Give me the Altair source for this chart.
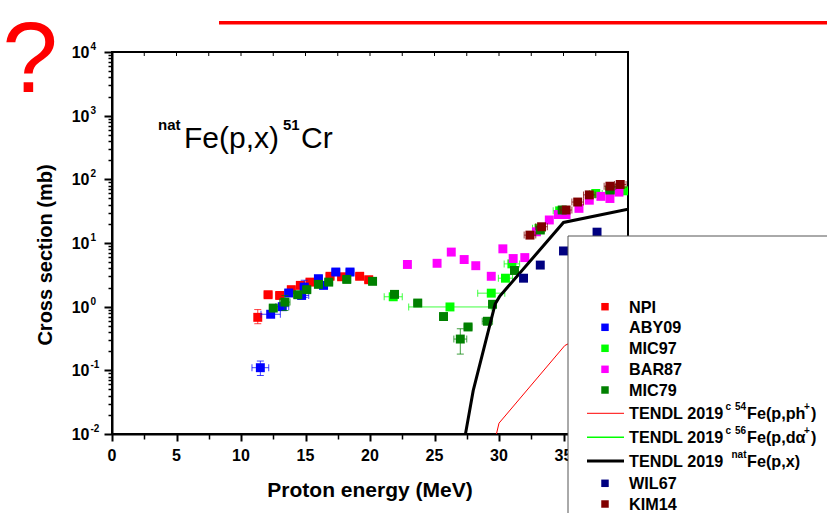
import altair as alt
import pandas as pd

# ---------------- data ----------------
NPI_E = [11.3, 12.1, 13.0, 13.9, 14.6, 15.35, 16.9, 17.8, 19.2, 19.9]
NPI_S = [0.68, 1.54, 1.5, 1.85, 2.16, 2.43, 3.0, 2.95, 3.0, 2.65]
NPI_XE = [0.25, 0.3, 0.3, 0.3, 0.3, 0.3, 0.3, 0.3, 0.3, 0.3]

ABY_E = [11.5, 12.3, 13.2, 13.7, 14.7, 14.9, 16.0, 16.4, 17.35, 18.45]
ABY_S = [0.11, 0.76, 1.0, 1.64, 1.5, 2.03, 2.75, 2.16, 3.5, 3.5]
ABY_XE = [0.65, 0.75, 0.5, 0.3, 0.55, 0.3, 0.3, 0.3, 0.3, 0.3]

MIC97_E = [21.8, 26.2, 29.4, 30.5, 31.0, 33.1, 34.7, 37.5, 38.8, 39.8]
MIC97_S = [1.43, 0.99, 1.63, 2.8, 4.7, 17, 32, 60, 68, 66]
MIC97_XE = [0.7, 3.2, 1.05, 0.55, 0.6, 0.5, 0.5, 0.5, 0.5, 0.5]

BAR_E = [22.9, 25.2, 26.3, 27.3, 28.2, 29.4, 30.3, 31.1, 32.0, 32.9, 33.9, 34.6, 35.2,
         36.2, 37.0, 37.9, 38.6, 39.3]
BAR_S = [4.6, 4.8, 7.2, 5.5, 4.4, 3.0, 8.1, 5.7, 5.9, 15, 23, 28, 28, 35, 47, 54, 50, 63]
BAR_XE = [0] * len(BAR_E)

MIC79_E = [12.5, 13.4, 14.4, 15.1, 16.0, 16.8, 18.2, 20.2, 21.9, 23.7, 25.7, 27.0, 27.6,
           29.1, 29.5, 31.2, 33.2, 34.9, 38.6]
MIC79_S = [0.95, 1.18, 1.54, 1.85, 2.24, 2.43, 2.68, 2.5, 1.56, 1.14, 0.70, 0.31, 0.48,
           0.59, 1.09, 3.7, 16, 33, 68]
MIC79_XE = [0.3, 0.4, 0.3, 0.3, 0.3, 0.3, 0.3, 0.3, 0.3, 0.3, 0.3, 0.5, 0.3,
            0.4, 0.3, 0.3, 0.3, 0.3, 0.3]

WIL_E = [31.9, 33.2, 35.0, 37.6]
WIL_S = [2.8, 4.5, 7.5, 14.8]
WIL_XE = [0, 0, 0, 0]

KIM_E = [32.4, 33.3, 35.2, 36.1, 37.0, 38.6, 39.4]
KIM_S = [13.3, 18, 33, 44, 57, 78, 83]
KIM_XE = [0.45, 0.45, 0.45, 0.45, 0.45, 0.45, 0.45]

# vertical error bars (series, energy, low, high)
VE_SER = ["NPI", "ABY09", "ABY09", "MIC79", "MIC79"]
VE_E = [11.3, 11.5, 14.9, 13.4, 27.0]
VE_LO = [0.54, 0.083, 1.4, 0.87, 0.18]
VE_HI = [0.90, 0.14, 2.6, 1.5, 0.45]

# TENDL 2019 curves
NAT_E = [27.4, 28.0, 29.7, 30.05, 35.0, 40.0]
NAT_S = [0.01, 0.048, 1.1, 1.45, 21, 34]
FE54_E = [29.8, 30.0, 35.1, 35.5]
FE54_S = [0.01, 0.0148, 0.245, 0.27]

X_TICKS = [0, 2.5, 5, 7.5, 10, 12.5, 15, 17.5, 20, 22.5, 25, 27.5, 30, 32.5, 35, 37.5, 40]
X_LABELS = [0, 5, 10, 15, 20, 25, 30, 35]
Y_EXPS = [-2, -1, 0, 1, 2, 3, 4]

# ---------------- layout ----------------
FONT = "Liberation Sans"
W, H = 516, 382
OX, OY = 112, 52


def px(X):
    return X - OX


def py(Y):
    return Y - OY


COLORS = {"NPI": "#ff0000", "ABY09": "#0000ff", "MIC97": "#00ff00", "BAR87": "#ff00ff",
          "MIC79": "#008000", "WIL67": "#000080", "KIM14": "#800000"}

xs = alt.Scale(domain=[0, 40], nice=False, zero=False)
ys = alt.Scale(type="log", domain=[0.01, 10000], nice=False)

Y_TICKS = [m * 10.0 ** k for k in range(-2, 4) for m in range(1, 10)] + [10000.0]

MAJ_Y = "abs(log(datum.value)/LN10 - round(log(datum.value)/LN10)) < 0.001"
XAX = alt.Axis(values=X_TICKS, labels=False, title=None, grid=False,
               domainColor="black", domainWidth=2, tickColor="black",
               tickSize={"condition": {"test": "datum.value % 5 === 0", "value": 7}, "value": 5},
               tickWidth={"condition": {"test": "datum.value % 5 === 0", "value": 2}, "value": 1.5})
YAX = alt.Axis(values=Y_TICKS, labels=False, title=None, grid=False,
               domainColor="black", domainWidth=2, tickColor="black",
               tickSize={"condition": {"test": MAJ_Y, "value": 8}, "value": 4},
               tickWidth={"condition": {"test": MAJ_Y, "value": 2}, "value": 1.5})


def X(f):
    return alt.X(f, type="quantitative", scale=xs, axis=XAX)


def Y(f):
    return alt.Y(f, type="quantitative", scale=ys, axis=YAX)


ONE = pd.DataFrame({"k": [0]})


def txt(s, x, y, size, bold=True, align="left", baseline="middle", color="black", angle=0):
    return alt.Chart(ONE).mark_text(
        text=s, font=FONT, fontSize=size, fontWeight="bold" if bold else "normal",
        align=align, baseline=baseline, color=color, angle=angle
    ).encode(x=alt.value(px(x)), y=alt.value(py(y)))


series = [
    ("NPI", NPI_E, NPI_S, NPI_XE),
    ("ABY09", ABY_E, ABY_S, ABY_XE),
    ("MIC97", MIC97_E, MIC97_S, MIC97_XE),
    ("BAR87", BAR_E, BAR_S, BAR_XE),
    ("MIC79", MIC79_E, MIC79_S, MIC79_XE),
    ("WIL67", WIL_E, WIL_S, WIL_XE),
    ("KIM14", KIM_E, KIM_S, KIM_XE),
]

layers = []

nat_df = pd.DataFrame({"E": NAT_E, "S": NAT_S})
fe54_df = pd.DataFrame({"E": FE54_E, "S": FE54_S})

for name, E, S, XE in series:
    c = COLORS[name]
    df = pd.DataFrame({"E": E, "S": S, "lo": [e - d for e, d in zip(E, XE)],
                       "hi": [e + d for e, d in zip(E, XE)], "d": XE})
    eb = df[df["d"] > 0]
    if len(eb):
        layers.append(alt.Chart(eb).mark_rule(color=c, strokeWidth=1, opacity=0.75, clip=True)
                      .encode(x=X("lo"), x2="hi", y=Y("S")))
        for col in ["lo", "hi"]:
            layers.append(alt.Chart(eb).mark_tick(color=c, orient="vertical", size=7, thickness=1,
                                                  opacity=0.75, clip=True)
                          .encode(x=X(col), y=Y("S")))
    ve = pd.DataFrame({"E": [e for s, e in zip(VE_SER, VE_E) if s == name],
                       "lo": [v for s, v in zip(VE_SER, VE_LO) if s == name],
                       "hi": [v for s, v in zip(VE_SER, VE_HI) if s == name]})
    if len(ve):
        layers.append(alt.Chart(ve).mark_rule(color=c, strokeWidth=1, opacity=0.75, clip=True)
                      .encode(x=X("E"), y=Y("lo"), y2="hi"))
        for col in ["lo", "hi"]:
            layers.append(alt.Chart(ve).mark_tick(color=c, orient="horizontal", size=7,
                                                  thickness=1, opacity=0.75, clip=True)
                          .encode(x=X("E"), y=Y(col)))
    layers.append(alt.Chart(df).mark_square(size=80, color=c, opacity=1, clip=True)
                  .encode(x=X("E"), y=Y("S")))
    if name == "MIC79":
        layers.append(alt.Chart(nat_df).mark_line(color="black", strokeWidth=3, clip=True)
                      .encode(x=X("E"), y=Y("S")))
        layers.append(alt.Chart(fe54_df).mark_line(color="#ff0000", strokeWidth=1, clip=True)
                      .encode(x=X("E"), y=Y("S")))

# inward ticks on the top frame
top_df = pd.DataFrame({"E": X_TICKS[1:-1]})
layers.append(alt.Chart(top_df).mark_rule(color="black", strokeWidth=1)
              .encode(x=X("E"), y=alt.value(0), y2=alt.value(4)))

# tick labels
xl_df = pd.DataFrame({"E": X_LABELS, "t": [str(v) for v in X_LABELS]})
layers.append(alt.Chart(xl_df).mark_text(font=FONT, fontSize=16, fontWeight="bold",
                                         baseline="middle", align="center")
              .encode(x=X("E"), y=alt.value(py(456)), text="t:N"))
yl_df = pd.DataFrame({"v": [10.0 ** e for e in Y_EXPS], "t": [str(e) for e in Y_EXPS]})
layers.append(alt.Chart(yl_df).mark_text(text="10", font=FONT, fontSize=16, fontWeight="bold",
                                         baseline="middle", align="right", dy=1)
              .encode(x=alt.value(px(89.5)), y=Y("v")))
layers.append(alt.Chart(yl_df).mark_text(font=FONT, fontSize=10, fontWeight="bold",
                                         baseline="middle", align="left", dy=-5)
              .encode(x=alt.value(px(90.5)), y=Y("v"), text="t:N"))

# axis titles
layers.append(txt("Proton energy (MeV)", 370, 491, 21, align="center"))
layers.append(txt("Cross section (mb)", 46, 255, 20, align="center", angle=270))

# reaction label
layers.append(txt("nat", 158, 130, 15, bold=True, baseline="alphabetic"))
layers.append(txt("Fe(p,x)", 184, 148, 30, bold=False, baseline="alphabetic"))
layers.append(txt("51", 283, 130, 15, bold=True, baseline="alphabetic"))
layers.append(txt("Cr", 301, 148, 30, bold=False, baseline="alphabetic"))

# legend box
layers.append(alt.Chart(ONE).mark_rect(fill="white", stroke="#555555", strokeWidth=1)
              .encode(x=alt.value(px(568)), x2=alt.value(px(840)),
                      y=alt.value(py(236)), y2=alt.value(py(530))))

LEG_ROWS = [
    ("sq", "NPI", COLORS["NPI"], 0),
    ("sq", "ABY09", COLORS["ABY09"], 0),
    ("sq", "MIC97", COLORS["MIC97"], 0),
    ("sq", "BAR87", COLORS["BAR87"], 0),
    ("sq", "MIC79", COLORS["MIC79"], 0),
    ("line", "54", "#ff0000", 1),
    ("line", "56", "#00ff00", 1.5),
    ("line", "nat", "#000000", 3),
    ("sq", "WIL67", COLORS["WIL67"], 0),
    ("sq", "KIM14", COLORS["KIM14"], 0),
]
ROW_Y = [306.7, 327.3, 348.3, 369.3, 390, 413.3, 437.3, 461, 483.3, 504]

for (kind, lab, col, lw), yy in zip(LEG_ROWS, ROW_Y):
    if kind == "sq":
        layers.append(alt.Chart(ONE).mark_square(size=56, color=col, opacity=1)
                      .encode(x=alt.value(px(605)), y=alt.value(py(yy))))
        layers.append(txt(lab, 629, yy + 1, 16.2))
    else:
        layers.append(alt.Chart(ONE).mark_rule(color=col, strokeWidth=lw)
                      .encode(x=alt.value(px(587)), x2=alt.value(px(624)), y=alt.value(py(yy))))
        layers.append(txt("TENDL 2019", 629, yy + 1, 16.2))
        if lab == "nat":
            layers.append(txt("nat", 731.5, yy - 6, 10))
            layers.append(txt("Fe(p,x)", 747, yy + 1, 16.2))
        else:
            layers.append(txt("c", 725.5, yy - 6, 10))
            layers.append(txt(lab, 735, yy - 6, 10))
            layers.append(txt("Fe(p,ph" if lab == "54" else "Fe(p,d\u03b1", 747, yy + 1, 16.2))
            layers.append(txt("+", 804, yy - 6, 10))
            layers.append(txt(")", 811, yy + 1, 16.2))

# slide decorations
layers.append(txt("?", 30, 92, 100, bold=False, align="center", baseline="alphabetic",
                  color="#ff0000"))
layers.append(alt.Chart(ONE).mark_rule(color="#ff0000", strokeWidth=3.5)
              .encode(x=alt.value(px(219)), x2=alt.value(px(840)), y=alt.value(py(22.7))))

chart = alt.layer(*layers).properties(
    width=W, height=H, autosize="none",
    padding={"left": OX, "top": OY, "right": 827 - OX - W, "bottom": 513 - OY - H},
).configure_view(stroke="black", strokeWidth=2)

chart.save("out.html", embed_options={"renderer": "svg", "actions": False})
